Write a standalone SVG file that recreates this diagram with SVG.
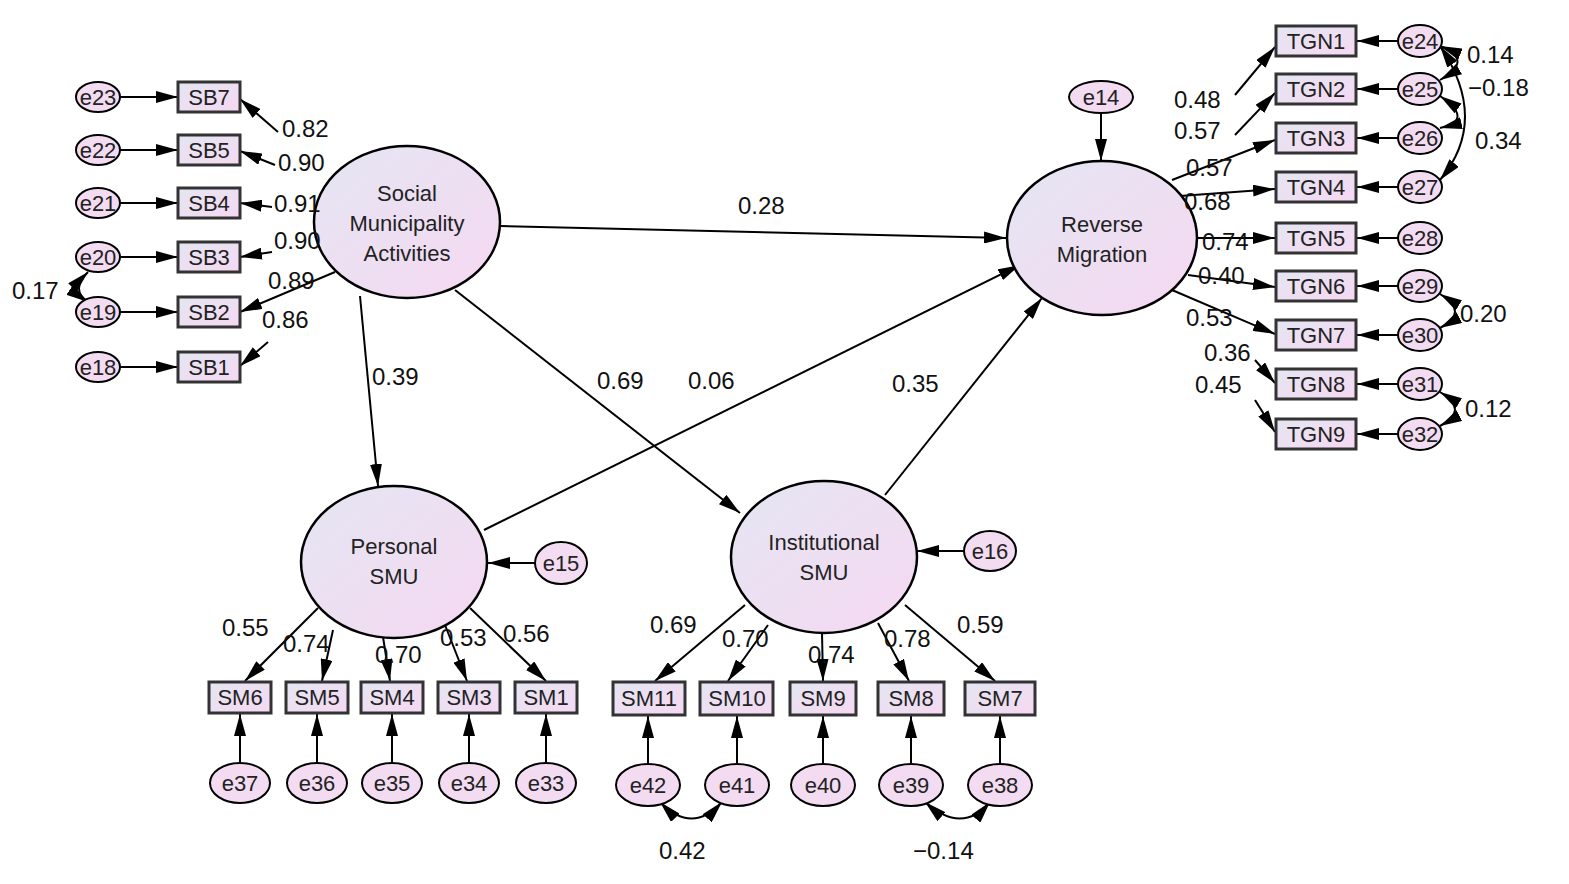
<svg xmlns="http://www.w3.org/2000/svg" width="1569" height="884" viewBox="0 0 1569 884">
<defs>
<linearGradient id="g" x1="0" y1="0" x2="1" y2="1"><stop offset="0" stop-color="#e4e6f2"/><stop offset="1" stop-color="#f6d8f2"/></linearGradient>
<marker id="b" viewBox="0 0 22 12" refX="22" refY="6" markerWidth="22" markerHeight="12" orient="auto-start-reverse" markerUnits="userSpaceOnUse"><path d="M0,0L22,6L0,12z" fill="#000"/></marker>
</defs>
<style>
.l{fill:url(#g);stroke:#000;stroke-width:2.5}
.o{fill:url(#g);stroke:#333;stroke-width:3}
.e{fill:#f3dcf2;stroke:#000;stroke-width:2}
.t{font-family:"Liberation Sans",Arial,sans-serif;font-size:22px;fill:#222;text-anchor:middle}
.n{font-family:"Liberation Sans",Arial,sans-serif;font-size:24px;fill:#111}
.c line,.c path{stroke:#000;stroke-width:2;fill:none;marker-end:url(#b)}
.c .d{marker-start:url(#b)}
</style>
<rect width="1569" height="884" fill="#fff"/>
<g class="c" id="connectors">
<line x1="500" y1="226" x2="1006" y2="238"/>
<line x1="360" y1="296" x2="378" y2="486"/>
<line x1="455" y1="290" x2="740" y2="513"/>
<line x1="484" y1="530" x2="1020" y2="265"/>
<line x1="885" y1="495" x2="1042" y2="298"/>
<line x1="1101" y1="113" x2="1101" y2="161"/>
<line x1="535" y1="563" x2="488" y2="563"/>
<line x1="964" y1="551" x2="917" y2="551"/>
<line x1="120" y1="97" x2="178" y2="97"/><line x1="120" y1="150" x2="178" y2="150"/><line x1="120" y1="203" x2="178" y2="203"/><line x1="120" y1="257" x2="178" y2="257"/><line x1="120" y1="312" x2="178" y2="312"/><line x1="120" y1="367" x2="178" y2="367"/>
<line x1="278" y1="132" x2="240" y2="99"/><line x1="275" y1="165" x2="240" y2="151"/><line x1="272" y1="207" x2="240" y2="203"/><line x1="272" y1="252" x2="240" y2="257"/><line x1="335" y1="272" x2="240" y2="312"/><line x1="268" y1="342" x2="240" y2="366"/>
<path class="d" d="M88,272 Q70,290 88,302"/>
<line x1="1420" y1="41" x2="1357" y2="41"/><line x1="1398" y1="89" x2="1357" y2="89"/><line x1="1398" y1="138" x2="1357" y2="138"/><line x1="1398" y1="187" x2="1357" y2="187"/><line x1="1398" y1="238" x2="1357" y2="238"/><line x1="1398" y1="286" x2="1357" y2="286"/><line x1="1398" y1="335" x2="1357" y2="335"/><line x1="1398" y1="384" x2="1357" y2="384"/><line x1="1398" y1="434" x2="1357" y2="434"/>
<line x1="1235" y1="95" x2="1275" y2="47"/><line x1="1235" y1="135" x2="1275" y2="93"/><line x1="1172" y1="180" x2="1275" y2="140"/><line x1="1180" y1="196" x2="1275" y2="189"/><line x1="1196" y1="238" x2="1275" y2="238"/><line x1="1188" y1="275" x2="1275" y2="287"/><line x1="1172" y1="290" x2="1275" y2="334"/><line x1="1255" y1="360" x2="1275" y2="383"/><line x1="1255" y1="400" x2="1275" y2="432"/>
<path class="d" d="M1440,46 Q1475,60 1440,80"/>
<path class="d" d="M1440,96 Q1475,120 1440,128"/>
<path class="d" d="M1440,46 Q1490,120 1440,180"/>
<path class="d" d="M1440,294 Q1470,312 1440,328"/>
<path class="d" d="M1440,392 Q1470,410 1440,426"/>
<line x1="318" y1="608" x2="245" y2="681"/><line x1="333" y1="630" x2="322" y2="681"/><line x1="383" y1="637" x2="390" y2="681"/><line x1="445" y1="625" x2="467" y2="681"/><line x1="470" y1="608" x2="546" y2="681"/>
<line x1="745" y1="605" x2="655" y2="681"/><line x1="768" y1="625" x2="728" y2="681"/><line x1="822" y1="633" x2="823" y2="681"/><line x1="878" y1="623" x2="909" y2="681"/><line x1="905" y1="605" x2="995" y2="681"/>
<line x1="240" y1="763" x2="240" y2="714"/><line x1="317" y1="763" x2="317" y2="714"/><line x1="392" y1="763" x2="392" y2="714"/><line x1="469" y1="763" x2="469" y2="714"/><line x1="546" y1="763" x2="546" y2="714"/>
<line x1="648" y1="763" x2="648" y2="716"/><line x1="737" y1="763" x2="737" y2="716"/><line x1="823" y1="763" x2="823" y2="716"/><line x1="911" y1="763" x2="911" y2="716"/><line x1="1000" y1="763" x2="1000" y2="716"/>
<path class="d" d="M660,802 Q692,835 722,802"/>
<path class="d" d="M925,802 Q962,835 990,802"/>
</g>
<g id="social"><ellipse class="l" cx="407" cy="222" rx="93" ry="76"/><text class="t" x="407" y="201">Social</text><text class="t" x="407" y="231">Municipality</text><text class="t" x="407" y="261">Activities</text></g>
<g id="reverse"><ellipse class="l" cx="1102" cy="238" rx="95" ry="77"/><text class="t" x="1102" y="232">Reverse</text><text class="t" x="1102" y="262">Migration</text></g>
<g id="personal"><ellipse class="l" cx="394" cy="562" rx="93" ry="76"/><text class="t" x="394" y="554">Personal</text><text class="t" x="394" y="584">SMU</text></g>
<g id="institutional"><ellipse class="l" cx="824" cy="557" rx="93" ry="76"/><text class="t" x="824" y="550">Institutional</text><text class="t" x="824" y="580">SMU</text></g>
<g id="e14"><ellipse class="e" cx="1101" cy="97" rx="32" ry="16"/><text class="t" x="1101" y="105">e14</text></g>
<g id="e15"><ellipse class="e" cx="561" cy="563" rx="26" ry="21"/><text class="t" x="561" y="571">e15</text></g>
<g id="e16"><ellipse class="e" cx="990" cy="551" rx="26" ry="20"/><text class="t" x="990" y="559">e16</text></g>
<g id="sb">
<g id="SB7"><rect class="o" x="178" y="82" width="62" height="30"/><text class="t" x="209" y="105">SB7</text></g>
<g id="SB5"><rect class="o" x="178" y="135" width="62" height="30"/><text class="t" x="209" y="158">SB5</text></g>
<g id="SB4"><rect class="o" x="178" y="188" width="62" height="30"/><text class="t" x="209" y="211">SB4</text></g>
<g id="SB3"><rect class="o" x="178" y="242" width="62" height="30"/><text class="t" x="209" y="265">SB3</text></g>
<g id="SB2"><rect class="o" x="178" y="297" width="62" height="30"/><text class="t" x="209" y="320">SB2</text></g>
<g id="SB1"><rect class="o" x="178" y="352" width="62" height="30"/><text class="t" x="209" y="375">SB1</text></g>
<g id="e23"><ellipse class="e" cx="98" cy="97" rx="22" ry="15"/><text class="t" x="98" y="105">e23</text></g>
<g id="e22"><ellipse class="e" cx="98" cy="150" rx="22" ry="15"/><text class="t" x="98" y="158">e22</text></g>
<g id="e21"><ellipse class="e" cx="98" cy="203" rx="22" ry="15"/><text class="t" x="98" y="211">e21</text></g>
<g id="e20"><ellipse class="e" cx="98" cy="257" rx="22" ry="15"/><text class="t" x="98" y="265">e20</text></g>
<g id="e19"><ellipse class="e" cx="98" cy="312" rx="22" ry="15"/><text class="t" x="98" y="320">e19</text></g>
<g id="e18"><ellipse class="e" cx="98" cy="367" rx="22" ry="15"/><text class="t" x="98" y="375">e18</text></g>
</g>
<g id="tgn">
<g id="TGN1"><rect class="o" x="1276" y="26" width="80" height="30"/><text class="t" x="1316" y="49">TGN1</text></g>
<g id="TGN2"><rect class="o" x="1276" y="74" width="80" height="30"/><text class="t" x="1316" y="97">TGN2</text></g>
<g id="TGN3"><rect class="o" x="1276" y="123" width="80" height="30"/><text class="t" x="1316" y="146">TGN3</text></g>
<g id="TGN4"><rect class="o" x="1276" y="172" width="80" height="30"/><text class="t" x="1316" y="195">TGN4</text></g>
<g id="TGN5"><rect class="o" x="1276" y="223" width="80" height="30"/><text class="t" x="1316" y="246">TGN5</text></g>
<g id="TGN6"><rect class="o" x="1276" y="271" width="80" height="30"/><text class="t" x="1316" y="294">TGN6</text></g>
<g id="TGN7"><rect class="o" x="1276" y="320" width="80" height="30"/><text class="t" x="1316" y="343">TGN7</text></g>
<g id="TGN8"><rect class="o" x="1276" y="369" width="80" height="30"/><text class="t" x="1316" y="392">TGN8</text></g>
<g id="TGN9"><rect class="o" x="1276" y="419" width="80" height="30"/><text class="t" x="1316" y="442">TGN9</text></g>
<g id="e24"><ellipse class="e" cx="1420" cy="41" rx="22" ry="16"/><text class="t" x="1420" y="49">e24</text></g>
<g id="e25"><ellipse class="e" cx="1420" cy="89" rx="22" ry="16"/><text class="t" x="1420" y="97">e25</text></g>
<g id="e26"><ellipse class="e" cx="1420" cy="138" rx="22" ry="16"/><text class="t" x="1420" y="146">e26</text></g>
<g id="e27"><ellipse class="e" cx="1420" cy="187" rx="22" ry="16"/><text class="t" x="1420" y="195">e27</text></g>
<g id="e28"><ellipse class="e" cx="1420" cy="238" rx="22" ry="16"/><text class="t" x="1420" y="246">e28</text></g>
<g id="e29"><ellipse class="e" cx="1420" cy="286" rx="22" ry="16"/><text class="t" x="1420" y="294">e29</text></g>
<g id="e30"><ellipse class="e" cx="1420" cy="335" rx="22" ry="16"/><text class="t" x="1420" y="343">e30</text></g>
<g id="e31"><ellipse class="e" cx="1420" cy="384" rx="22" ry="16"/><text class="t" x="1420" y="392">e31</text></g>
<g id="e32"><ellipse class="e" cx="1420" cy="434" rx="22" ry="16"/><text class="t" x="1420" y="442">e32</text></g>
</g>
<g id="sm">
<g id="SM6"><rect class="o" x="209" y="682" width="62" height="31"/><text class="t" x="240" y="705">SM6</text></g>
<g id="SM5"><rect class="o" x="286" y="682" width="62" height="31"/><text class="t" x="317" y="705">SM5</text></g>
<g id="SM4"><rect class="o" x="361" y="682" width="62" height="31"/><text class="t" x="392" y="705">SM4</text></g>
<g id="SM3"><rect class="o" x="438" y="682" width="62" height="31"/><text class="t" x="469" y="705">SM3</text></g>
<g id="SM1"><rect class="o" x="515" y="682" width="62" height="31"/><text class="t" x="546" y="705">SM1</text></g>
<g id="SM11"><rect class="o" x="613" y="682" width="72" height="33"/><text class="t" x="649" y="706">SM11</text></g>
<g id="SM10"><rect class="o" x="700" y="682" width="73" height="33"/><text class="t" x="737" y="706">SM10</text></g>
<g id="SM9"><rect class="o" x="790" y="682" width="66" height="33"/><text class="t" x="823" y="706">SM9</text></g>
<g id="SM8"><rect class="o" x="878" y="682" width="66" height="33"/><text class="t" x="911" y="706">SM8</text></g>
<g id="SM7"><rect class="o" x="965" y="682" width="70" height="33"/><text class="t" x="1000" y="706">SM7</text></g>
<g id="e37"><ellipse class="e" cx="240" cy="783" rx="30" ry="20"/><text class="t" x="240" y="791">e37</text></g>
<g id="e36"><ellipse class="e" cx="317" cy="783" rx="30" ry="20"/><text class="t" x="317" y="791">e36</text></g>
<g id="e35"><ellipse class="e" cx="392" cy="783" rx="30" ry="20"/><text class="t" x="392" y="791">e35</text></g>
<g id="e34"><ellipse class="e" cx="469" cy="783" rx="30" ry="20"/><text class="t" x="469" y="791">e34</text></g>
<g id="e33"><ellipse class="e" cx="546" cy="783" rx="30" ry="20"/><text class="t" x="546" y="791">e33</text></g>
<g id="e42"><ellipse class="e" cx="648" cy="785" rx="32" ry="21"/><text class="t" x="648" y="793">e42</text></g>
<g id="e41"><ellipse class="e" cx="737" cy="785" rx="32" ry="21"/><text class="t" x="737" y="793">e41</text></g>
<g id="e40"><ellipse class="e" cx="823" cy="785" rx="32" ry="21"/><text class="t" x="823" y="793">e40</text></g>
<g id="e39"><ellipse class="e" cx="911" cy="785" rx="32" ry="21"/><text class="t" x="911" y="793">e39</text></g>
<g id="e38"><ellipse class="e" cx="1000" cy="785" rx="32" ry="21"/><text class="t" x="1000" y="793">e38</text></g>
</g>
<g id="labels" class="n">
<text x="738" y="214">0.28</text><text x="372" y="385">0.39</text><text x="597" y="389">0.69</text><text x="688" y="389">0.06</text><text x="892" y="392">0.35</text>
<text x="282" y="137">0.82</text><text x="278" y="171">0.90</text><text x="274" y="212">0.91</text><text x="274" y="249">0.90</text><text x="268" y="289">0.89</text><text x="262" y="328">0.86</text><text x="12" y="299">0.17</text>
<text x="1174" y="108">0.48</text><text x="1174" y="139">0.57</text><text x="1186" y="176">0.57</text><text x="1184" y="210">0.68</text><text x="1202" y="250">0.74</text><text x="1198" y="284">0.40</text><text x="1186" y="326">0.53</text><text x="1204" y="361">0.36</text><text x="1195" y="393">0.45</text>
<text x="1467" y="63">0.14</text><text x="1468" y="96">−0.18</text><text x="1475" y="149">0.34</text><text x="1460" y="322">0.20</text><text x="1465" y="417">0.12</text>
<text x="222" y="636">0.55</text><text x="283" y="652">0.74</text><text x="375" y="663">0.70</text><text x="440" y="646">0.53</text><text x="503" y="642">0.56</text>
<text x="650" y="633">0.69</text><text x="722" y="647">0.70</text><text x="808" y="663">0.74</text><text x="884" y="647">0.78</text><text x="957" y="633">0.59</text>
<text x="659" y="859">0.42</text><text x="913" y="859">−0.14</text>
</g>
</svg>
